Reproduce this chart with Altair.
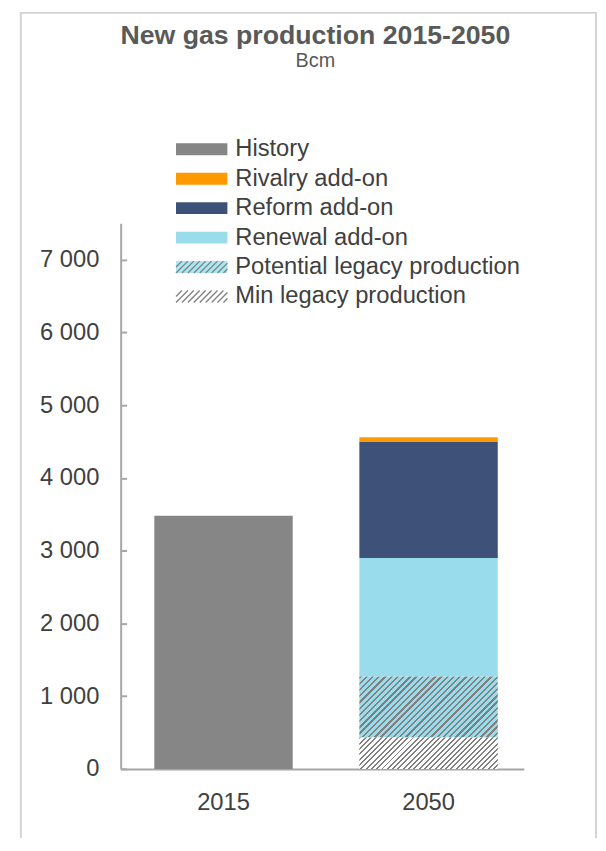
import altair as alt
import pandas as pd

# ---------------- data ----------------
years = ["2015", "2050"]
series_names = ["History", "Rivalry add-on", "Reform add-on", "Renewal add-on",
                "Potential legacy production", "Min legacy production"]
series_colors = ["#868686", "#ff9900", "#3e5179", "#99dcec", "#a8e8f4", "#ffffff"]

history_2015 = 3480
min_legacy_2050 = 430
potential_legacy_2050 = 840
renewal_2050 = 1630
reform_2050 = 1600
rivalry_2050 = 60

y_ticks = [0, 1000, 2000, 3000, 4000, 5000, 6000, 7000]
y_max = 7500

# ---------------- table ----------------
rows = [("2015", "History", 0, history_2015)]
stack_2050 = [("Min legacy production", min_legacy_2050),
              ("Potential legacy production", potential_legacy_2050),
              ("Renewal add-on", renewal_2050),
              ("Reform add-on", reform_2050),
              ("Rivalry add-on", rivalry_2050)]
acc = 0
for name, v in stack_2050:
    rows.append(("2050", name, acc, acc + v))
    acc += v
df = pd.DataFrame(rows, columns=["year", "series", "start", "end"])
df["hatch_key"] = df["series"] + " "

# ---------------- layout / style ----------------
W, H = 582, 860
Y_RANGE = [765, 213]
X_RANGE = [101, 509]
P_IN, P_OUT, ALIGN = 0.325, 0.1457, 0.563
AXIS_X = 101
TEXT = "#404040"
LINE = "#a6a6a6"
HATCH = "#808080"
FONT = "Liberation Sans"
FS = 24

step = (X_RANGE[1] - X_RANGE[0]) / (len(years) - P_IN + 2 * P_OUT)
bar_w = step * (1 - P_IN)
px_per_unit = (Y_RANGE[0] - Y_RANGE[1]) / y_max


def hatch_gradient(bg, w, h, n=32, frac=0.375):
    # 45-degree "/" stripes drawn with a linear gradient in bounding-box units
    r = h / w
    k = (1 + r) / (1 + r * r)
    stops = []
    for i in range(n):
        a, b, c = i / n, (i + frac) / n, (i + 1) / n
        stops += [alt.GradientStop(color=HATCH, offset=a),
                  alt.GradientStop(color=HATCH, offset=b),
                  alt.GradientStop(color=bg, offset=b),
                  alt.GradientStop(color=bg, offset=c)]
    return alt.LinearGradient(gradient="linear", stops=stops,
                              x1=0, y1=0, x2=k, y2=k * r)


def hatch_path(hw=2.6, hh=0.6, st=0.6):
    segs = []
    x = -hw - 2 * hh
    while x < hw:
        x0, y0 = x, hh
        x1, y1 = x + 2 * hh, -hh
        if x0 < -hw:
            y0 = hh - (-hw - x0)
            x0 = -hw
        if x1 > hw:
            y1 = -hh + (x1 - hw)
            x1 = hw
        if x1 > x0:
            segs.append(f"M{x0:.3f},{y0:.3f}L{x1:.3f},{y1:.3f}")
        x += st
    return "".join(segs)


RECT_PATH = "M-2.6,-0.6H2.6V0.6H-2.6Z"

legend_common = dict(orient="none", legendX=155, legendY=126, title=None,
                     symbolSize=400, symbolOffset=16, labelOffset=22,
                     labelFontSize=FS, labelFont=FONT, labelLimit=600,
                     rowPadding=5.8, padding=0)

X = alt.X("year:N",
          scale=alt.Scale(domain=years, range=X_RANGE,
                          paddingInner=P_IN, paddingOuter=P_OUT, align=ALIGN),
          axis=alt.Axis(orient="bottom", offset=Y_RANGE[0] - H, title=None,
                        labelAngle=0, ticks=False, tickSize=0, labelPadding=22,
                        labelFontSize=FS, labelFont=FONT, labelColor=TEXT,
                        domainColor=LINE, domainWidth=2, grid=False))

y_scale = alt.Scale(domain=[0, y_max], range=Y_RANGE, nice=False, zero=True)

Y_main = alt.Y("start:Q", scale=y_scale,
               axis=alt.Axis(orient="left", offset=-AXIS_X, values=y_ticks,
                             labelExpr="replace(format(datum.value, ','), ',', ' ')",
                             ticks=False, tickSize=0, labelPadding=22,
                             labelFontSize=FS, labelFont=FONT, labelColor=TEXT,
                             domainColor=LINE, domainWidth=2, grid=False,
                             title=None))
Y_ticks = alt.Y("start:Q", scale=y_scale,
                axis=alt.Axis(orient="right", offset=AXIS_X - W, values=y_ticks,
                              labels=False, domain=False, ticks=True, tickSize=6,
                              tickColor=LINE, tickWidth=2, grid=False, title=None))
Y_none = alt.Y("start:Q", scale=y_scale, axis=None)

base = alt.Chart(df)

solid = base.transform_filter(
    alt.FieldOneOfPredicate(field="series",
                            oneOf=["History", "Rivalry add-on", "Reform add-on", "Renewal add-on"])
).mark_bar().encode(
    x=X, y=Y_main, y2="end:Q",
    color=alt.Color("series:N",
                    scale=alt.Scale(domain=series_names, range=series_colors),
                    legend=alt.Legend(symbolType=RECT_PATH, symbolStrokeWidth=0,
                                      labelColor=TEXT, symbolOpacity=1,
                                      **legend_common)))

pot = base.transform_filter(
    alt.datum.series == "Potential legacy production"
).mark_bar(fill=hatch_gradient(series_colors[3], bar_w,
                               potential_legacy_2050 * px_per_unit)).encode(
    x=X, y=Y_ticks, y2="end:Q")

mn = base.transform_filter(
    alt.datum.series == "Min legacy production"
).mark_bar(fill=hatch_gradient("#ffffff", bar_w,
                               min_legacy_2050 * px_per_unit)).encode(
    x=X, y=Y_none, y2="end:Q")

hatch_legend = base.transform_filter("false").mark_point(opacity=1, filled=False).encode(
    stroke=alt.Stroke("hatch_key:N",
                      scale=alt.Scale(domain=[s + " " for s in series_names],
                                      range=["transparent"] * 4 + [HATCH, HATCH]),
                      legend=alt.Legend(symbolType=hatch_path(), symbolStrokeWidth=1.3,
                                        symbolFillColor="transparent",
                                        labelColor="transparent", symbolOpacity=1,
                                        **legend_common)))

chart = alt.layer(solid, pot, mn, hatch_legend).resolve_axis(y="independent").properties(
    width=W, height=H,
    autosize=alt.AutoSizeParams(type="none"),
    padding={"left": 13, "top": 0, "right": 2, "bottom": -30},
    title=alt.TitleParams(text="New gas production 2015-2050", subtitle="Bcm",
                          font=FONT, fontSize=27, fontWeight="bold", color="#595959",
                          subtitleFont=FONT, subtitleFontSize=20, subtitleColor="#595959",
                          subtitlePadding=2, anchor="middle", frame="group",
                          offset=-60, dx=7),
).configure_view(stroke="#d4d4d4", strokeWidth=2)

chart.save("out.html", embed_options={"renderer": "svg", "actions": False})
